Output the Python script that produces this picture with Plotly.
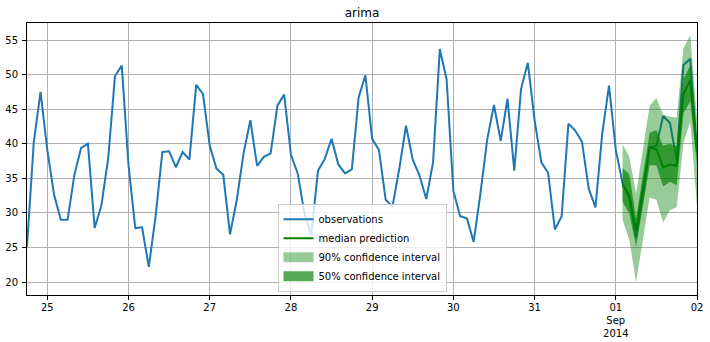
import pandas as pd
import plotly.graph_objects as go

# ---- data ----
obs_start = "2014-08-24 18:00"
obs_freq = "2h"
observations = [
    25.1, 40.2, 47.5, 39.1, 32.6, 29.0, 29.0, 35.5, 39.4, 40.0, 27.8, 31.1,
    37.9, 49.8, 51.3, 36.9, 27.8, 27.9, 22.2, 29.5, 38.8, 38.9, 36.6, 38.8,
    37.7, 48.5, 47.2, 39.7, 36.4, 35.5, 26.9,
    31.9, 38.6, 43.4, 36.8, 38.1, 38.6, 45.5, 47.1, 38.4, 35.7, 29.9, 26.8,
    36.1, 37.8, 40.7, 37.0, 35.7, 36.3, 46.7, 49.9, 40.7, 39.1, 31.9, 30.9,
    36.3, 42.6, 37.7, 35.4, 32.0, 37.3, 53.7, 49.3, 33.2, 29.5, 29.2,
    25.8, 32.8, 40.6, 45.6, 40.4, 46.5, 36.1, 47.9, 51.7, 43.4, 37.3, 35.8,
    27.6, 29.5, 42.9, 41.9, 40.3, 33.5, 30.8, 41.5, 48.4, 39.1, 34.3, 32.1,
    26.5, 32.4, 39.4, 39.7, 44.0, 43.0, 37.7, 51.4, 52.3, 38.9,
]
fc_start = "2014-09-01 02:00"
median_pred = [34.0, 32.6, 27.5, 33.3, 39.5, 39.2, 36.6, 37.0, 36.8, 47.2, 49.2, 38.7]
p50_upper = [36.5, 35.6, 29.2, 35.3, 41.6, 42.0, 39.7, 40.0, 39.6, 49.3, 51.4, 40.5]
p50_lower = [31.6, 29.9, 25.1, 30.9, 36.9, 36.9, 33.8, 34.5, 34.0, 44.4, 46.1, 37.0]
p90_upper = [39.9, 38.1, 32.8, 38.9, 45.5, 46.6, 44.2, 43.9, 43.8, 53.8, 55.7, 43.5]
p90_lower = [29.0, 26.1, 20.0, 26.1, 32.2, 31.9, 28.6, 30.4, 30.8, 40.1, 43.2, 30.9]

x_tickvals = ["2014-08-25", "2014-08-26", "2014-08-27", "2014-08-28", "2014-08-29",
              "2014-08-30", "2014-08-31", "2014-09-01", "2014-09-02"]
x_ticktext = ["25", "26", "27", "28", "29", "30", "31", "01<br>Sep<br>2014", "02"]
y_tickvals = [20, 25, 30, 35, 40, 45, 50, 55]

obs_idx = pd.date_range(obs_start, periods=len(observations), freq=obs_freq)
fc_idx = pd.date_range(fc_start, periods=len(median_pred), freq=obs_freq)

GREEN = "#008000"
A90 = "rgba(0,128,0,0.407)"
A50 = "rgba(0,128,0,0.66)"

fig = go.Figure()
fig.add_trace(go.Scatter(x=obs_idx, y=observations, mode="lines",
                         line=dict(color="#1f77b4", width=2),
                         name="observations", legendrank=1))
band_x = list(fc_idx) + list(fc_idx[::-1])
fig.add_trace(go.Scatter(x=band_x, y=p90_upper + p90_lower[::-1], fill="toself",
                         fillcolor=A90, line=dict(width=0), mode="lines",
                         showlegend=False, hoverinfo="skip"))
fig.add_trace(go.Scatter(x=band_x, y=p50_upper + p50_lower[::-1], fill="toself",
                         fillcolor=A50, line=dict(width=0), mode="lines",
                         showlegend=False, hoverinfo="skip"))
fig.add_trace(go.Scatter(x=fc_idx, y=median_pred, mode="lines",
                         line=dict(color=GREEN, width=2),
                         name="median prediction", legendrank=2))
# legend handles (single-point thick lines, like the matplotlib hack)
fig.add_trace(go.Scatter(x=fc_idx[:1], y=median_pred[:1], mode="lines",
                         line=dict(color=A90, width=10),
                         name="90% confidence interval", legendrank=3))
fig.add_trace(go.Scatter(x=fc_idx[:1], y=median_pred[:1], mode="lines",
                         line=dict(color=A50, width=10),
                         name="50% confidence interval", legendrank=4))

axis_common = dict(showline=True, mirror=True, linecolor="black", linewidth=1,
                   ticks="outside", ticklen=4, tickcolor="black", tickwidth=1,
                   showgrid=True, gridcolor="#b0b0b0", gridwidth=1, zeroline=False,
                   automargin=False,
                   tickfont=dict(family="DejaVu Sans", size=10, color="black"))

fig.update_layout(
    width=710, height=342,
    margin=dict(l=27, r=13, t=23, b=47, autoexpand=False),
    paper_bgcolor="white", plot_bgcolor="white",
    font=dict(family="DejaVu Sans", size=10, color="black"),
    title=dict(text="arima", x=0.5, xref="paper", xanchor="center",
               y=1 - 12.7 / 342, yanchor="middle", automargin=False,
               font=dict(family="DejaVu Sans", size=12, color="black")),
    xaxis=dict(range=[obs_idx[0], pd.Timestamp("2014-09-02")],
               tickmode="array", tickvals=x_tickvals, ticktext=x_ticktext,
               ticklabelstandoff=-1, **axis_common),
    yaxis=dict(range=[18.12, 57.46], tickmode="array", tickvals=y_tickvals,
               ticklabelstandoff=2, **axis_common),
    legend=dict(x=0.5, xanchor="center", y=0.012, yanchor="bottom",
                bgcolor="rgba(255,255,255,0.8)", bordercolor="#cccccc", borderwidth=1,
                font=dict(family="DejaVu Sans", size=10, color="black"),
                itemwidth=30, tracegroupgap=0),
    showlegend=True,
)

fig.write_html("out.html")
